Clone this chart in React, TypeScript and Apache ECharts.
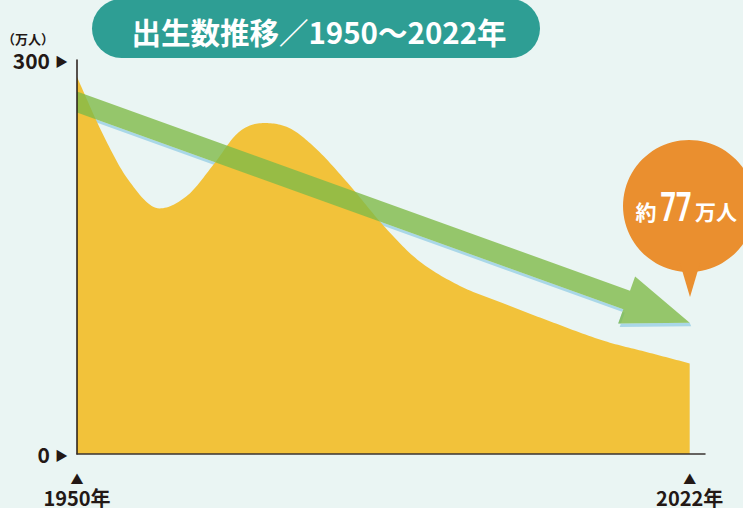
import React, { useEffect, useRef } from "react";
import * as echarts from "echarts";

// ---- data ----
const years = [1950, 1953, 1956, 1959.7, 1963, 1966, 1969, 1972, 1975, 1978, 1982, 1986, 1990, 1995, 2000, 2006, 2012, 2017, 2022];
const births = [287, 244, 209, 187, 197, 220, 245, 252, 248, 233, 205, 174, 148, 128, 115, 100, 86, 77.5, 69];
const yTickValues = [0, 300];
const xTickYears = [1950, 2022];
const trendFrom = [1950, 268];
const trendTo = [2022, 100];
const titleText = "出生数推移／1950〜2022年";
const unitText = "（万人）";
const calloutPrefix = "約";
const calloutValue = "77";
const calloutUnit = "万人";

const CJK = '"Noto Sans CJK JP", "Noto Sans", sans-serif';
const INK = "#231815";

function arrowGeometry(api: any) {
  const p0 = api.coord([api.value(0), api.value(1)]);
  const p1 = api.coord([api.value(2), api.value(3)]);
  const dx = p1[0] - p0[0];
  const dy = p1[1] - p0[1];
  const len = Math.hypot(dx, dy);
  const ux = dx / len;
  const uy = dy / len;
  const nx = uy;
  const ny = -ux;
  const hv = 21;
  const w2 = (hv * ux) / 2;
  const L = 67;
  const H = 25;
  const bx = p1[0] - ux * L;
  const by = p1[1] - uy * L;
  return [
    [p0[0], p0[1] - hv / 2],
    [bx + nx * w2, by + ny * w2],
    [bx + nx * H, by + ny * H],
    [p1[0], p1[1]],
    [bx - nx * H, by - ny * H],
    [bx - nx * w2, by - ny * w2],
    [p0[0], p0[1] + hv / 2],
  ];
}

// smooth (monotone cubic Hermite) outline through the data points, in pixel space
function smoothArea(api: any) {
  const pts = years.map((y, i) => api.coord([y, births[i]]));
  const n = pts.length;
  const d: number[] = [];
  for (let k = 0; k < n - 1; k++) d.push((pts[k + 1][1] - pts[k][1]) / (pts[k + 1][0] - pts[k][0]));
  const m: number[] = [];
  for (let k = 0; k < n; k++) {
    if (k === 0) m.push(d[0]);
    else if (k === n - 1) m.push(d[n - 2]);
    else if (d[k - 1] * d[k] <= 0) m.push(0);
    else m.push((d[k - 1] + d[k]) / 2);
  }
  const out: number[][] = [];
  for (let k = 0; k < n - 1; k++) {
    const x0 = pts[k][0];
    const y0 = pts[k][1];
    const y1 = pts[k + 1][1];
    const h = pts[k + 1][0] - x0;
    const steps = 16;
    for (let s = 0; s < steps; s++) {
      const t = s / steps;
      const t2 = t * t;
      const t3 = t2 * t;
      const yy = (2 * t3 - 3 * t2 + 1) * y0 + (t3 - 2 * t2 + t) * h * m[k] + (-2 * t3 + 3 * t2) * y1 + (t3 - t2) * h * m[k + 1];
      out.push([x0 + t * h, yy]);
    }
  }
  out.push(pts[n - 1]);
  const base = api.coord([years[0], 0])[1];
  out.push([pts[n - 1][0], base]);
  out.push([pts[0][0], base]);
  return out;
}

export default function App() {
  const ref = useRef<HTMLDivElement>(null);
  useEffect(() => {
    document.body.style.margin = "0";
    const chart = echarts.init(ref.current!, null, { renderer: "svg" });
    const trendData = [[trendFrom[0], trendFrom[1], trendTo[0], trendTo[1]]];
    const option: any = {
      animation: false,
      backgroundColor: "#eaf5f3",
      grid: { left: 77, top: 60, width: 628, height: 394 },
      xAxis: {
        type: "value",
        min: 1950,
        max: 2023.8,
        z: 5,
        axisLine: { show: true, lineStyle: { color: "#3a3330", width: 1.5 } },
        axisTick: { show: false },
        splitLine: { show: false },
        axisLabel: {
          customValues: xTickYears,
          margin: 15,
          formatter: (v: number) => `{t|▲}\n{y|${v}年}`,
          rich: {
            t: { fontSize: 13, lineHeight: 18, color: INK, fontFamily: CJK },
            y: { fontSize: 20, lineHeight: 20, fontWeight: "bold", color: INK, fontFamily: CJK },
          },
        },
      },
      yAxis: {
        type: "value",
        min: 0,
        max: 300,
        interval: 300,
        z: 5,
        axisLine: { show: true, lineStyle: { color: INK, width: 1.5 } },
        axisTick: { show: false },
        splitLine: { show: false },
        axisLabel: {
          customValues: yTickValues,
          margin: 9,
          formatter: (v: number) => `{n|${v}}{t|▶}`,
          rich: {
            n: { fontSize: 21, fontWeight: "bold", color: INK, fontFamily: CJK },
            t: { fontSize: 13, color: INK, fontFamily: CJK, padding: [0, 0, 0, 5] },
          },
        },
      },
      series: [
        {
          type: "custom",
          data: trendData,
          encode: { x: [0, 2], y: [1, 3] },
          clip: false,
          z: 1,
          silent: true,
          renderItem: (params: any, api: any) => {
            const pts = arrowGeometry(api);
            const lower = [pts[6], pts[5], pts[4], pts[3]];
            const shadow = lower.concat(
              lower
                .slice()
                .reverse()
                .map((p) => [p[0] + 1.5, p[1] + 3.5])
            );
            return { type: "polygon", shape: { points: shadow }, style: { fill: "#a9d7e8" } };
          },
        },
        {
          type: "custom",
          data: years.map((y, i) => [y, births[i]]),
          encode: { x: 0, y: 1 },
          clip: false,
          z: 2,
          silent: true,
          renderItem: (params: any, api: any) => {
            if (params.dataIndex !== 0) return { type: "group", children: [] };
            return { type: "polygon", shape: { points: smoothArea(api) }, style: { fill: "#f2c23a" } };
          },
        },
        {
          type: "custom",
          data: trendData,
          encode: { x: [0, 2], y: [1, 3] },
          clip: false,
          z: 3,
          silent: true,
          renderItem: (params: any, api: any) => ({
            type: "polygon",
            shape: { points: arrowGeometry(api) },
            style: { fill: "rgba(128,186,72,0.8)" },
          }),
        },
      ],
      graphic: [
        { type: "rect", shape: { x: 92, y: -1, width: 448, height: 59, r: 29.5 }, style: { fill: "#2e9e94" }, z: 10 },
        {
          type: "text",
          x: 319,
          y: 31,
          z: 11,
          style: {
            text: titleText,
            fill: "#ffffff",
            fontSize: 29.5,
            fontWeight: "bold",
            fontFamily: CJK,
            align: "center",
            verticalAlign: "middle",
          },
        },
        {
          type: "text",
          x: 2,
          y: 38,
          z: 11,
          style: { text: unitText, fill: INK, fontSize: 13, fontWeight: "bold", fontFamily: CJK, align: "left", verticalAlign: "middle" },
        },
        { type: "circle", shape: { cx: 689, cy: 206, r: 66 }, style: { fill: "#ea8f2f" }, z: 10 },
        { type: "polygon", shape: { points: [[679, 260], [701, 260], [690, 297]] }, style: { fill: "#ea8f2f" }, z: 10 },
        {
          type: "text",
          x: 646,
          y: 211,
          z: 11,
          style: { text: calloutPrefix, fill: "#fff", fontSize: 21, fontWeight: "bold", fontFamily: CJK, align: "center", verticalAlign: "middle" },
        },
        {
          type: "text",
          x: 676,
          y: 207,
          scaleX: 0.68,
          z: 11,
          style: { text: calloutValue, fill: "#fff", fontSize: 40, fontWeight: "bold", fontFamily: "Roboto, sans-serif", align: "center", verticalAlign: "middle" },
        },
        {
          type: "text",
          x: 716,
          y: 211,
          z: 11,
          style: { text: calloutUnit, fill: "#fff", fontSize: 21, fontWeight: "bold", fontFamily: CJK, align: "center", verticalAlign: "middle" },
        },
      ],
    };
    chart.setOption(option);
    return () => chart.dispose();
  }, []);
  return <div ref={ref} style={{ width: 743, height: 508, position: "absolute", left: 0, top: 0 }} />;
}
